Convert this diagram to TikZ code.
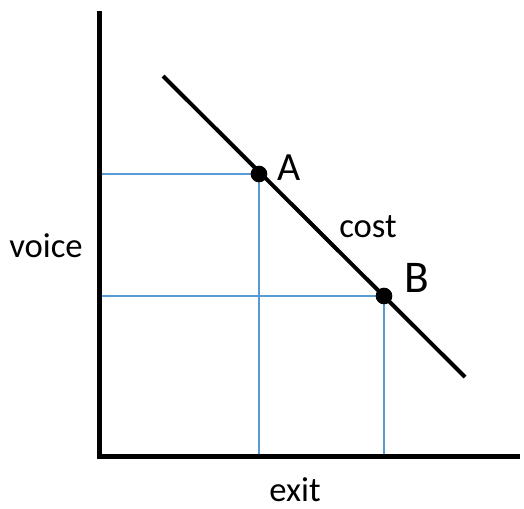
\documentclass[tikz,border=0pt]{standalone}
\usepackage{fontspec}
\setmainfont{Carlito}
\definecolor{gridblue}{RGB}{91,155,213}
\begin{document}
\begin{tikzpicture}[x=0.75pt,y=-0.75pt,
  axis/.style={line width=3.8pt},
  costline/.style={line width=3pt},
  guide/.style={draw=gridblue,line width=0.8pt},
  dot/.style={circle,fill=black,inner sep=0pt,minimum size=12.5pt},
  lbl/.style={inner sep=0pt,anchor=base,font=\fontsize{26}{30}\selectfont}]
\useasboundingbox (0,0) rectangle (524,508);
% guides
\coordinate (A) at (259,174);
\coordinate (B) at (384,296);
\coordinate (yA) at (99,174);
\coordinate (yB) at (99,296);
\coordinate (xA) at (259,456);
\coordinate (xB) at (384,456);
\draw[guide] (yA) -- (A) -- (xA);
\draw[guide] (yB) -- (B) -- (xB);
% axes
\coordinate (top) at (99.5,11);
\coordinate (org) at (99.5,456.5);
\coordinate (right) at (520,456.5);
\draw[axis] (top) -- (org);
\draw[axis] (97,456.5) -- (right);
% cost line
\coordinate (c1) at (163,76);
\coordinate (c2) at (465,377);
\draw[costline] (c1) -- (c2);
\node[dot] (dA) at (A) {};
\node[dot] (dB) at (B) {};
% labels
\node[lbl,font=\fontsize{30}{34}\selectfont] (la) at (289,180) {A};
\node[lbl,font=\fontsize{34}{38}\selectfont] (lb) at (417,292) {B};
\node[lbl] (lc) at (368,237) {cost};
\node[lbl] (lv) at (46,257) {voice};
\node[lbl] (le) at (295,501) {exit};
\end{tikzpicture}
\end{document}
